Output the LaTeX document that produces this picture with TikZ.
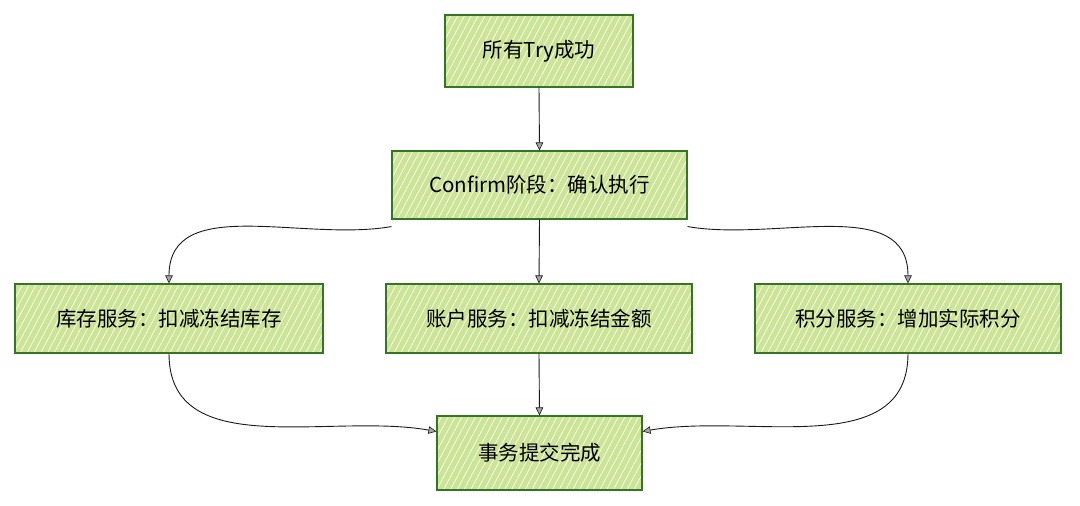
\documentclass[tikz,border=0pt]{standalone}
\usepackage{fontspec}
\setmainfont{Noto Sans CJK SC}
\usetikzlibrary{arrows.meta,patterns.meta}
\definecolor{boxfill}{RGB}{204,228,150}
\definecolor{boxline}{RGB}{52,118,38}
\definecolor{arrowc}{RGB}{25,25,25}
\tikzset{
  gbox/.style={draw=boxline, line width=1.1pt, inner sep=0pt,
    preaction={fill=boxfill},
    pattern={Lines[angle=62,distance=6pt,line width=0.8pt]}, pattern color=white!85!boxfill,
    font=\fontsize{20.5}{24}\selectfont, text=black},
  conn/.style={draw=arrowc, line width=0.9pt,
    -{Triangle[length=8pt,width=7.5pt,fill=gray!70,color=arrowc,line width=0.6pt]}}
}
\begin{document}
\begin{tikzpicture}[x=1pt,y=-1pt]
\useasboundingbox (0,0) rectangle (1080,506);
\node[gbox, minimum width=188pt, minimum height=72pt] (a) at (539,51) {所有Try成功};
\node[gbox, minimum width=295pt, minimum height=68pt] (b) at (539.5,185) {Confirm阶段：确认执行};
\node[gbox, minimum width=308pt, minimum height=69pt] (k) at (169,318.5) {库存服务：扣减冻结库存};
\node[gbox, minimum width=306pt, minimum height=69pt] (z) at (539,318.5) {账户服务：扣减冻结金额};
\node[gbox, minimum width=306pt, minimum height=69pt] (j) at (908,318.5) {积分服务：增加实际积分};
\node[gbox, minimum width=205pt, minimum height=74pt] (t) at (539.5,453) {事务提交完成};

\draw[conn] (a.south) -- (b.north);
\draw[conn] (b.south) -- (z.north);
\draw[conn] ([yshift=-7pt]b.south west) to[out=190,in=90] (k.north);
\draw[conn] ([yshift=-7pt]b.south east) to[out=-10,in=90] (j.north);
\draw[conn] (z.south) -- (t.north);
\draw[conn] (k.south) to[out=-90,in=170] ([yshift=-16pt]t.north west);
\draw[conn] (j.south) to[out=-90,in=10] ([yshift=-16pt]t.north east);
\end{tikzpicture}
\end{document}
